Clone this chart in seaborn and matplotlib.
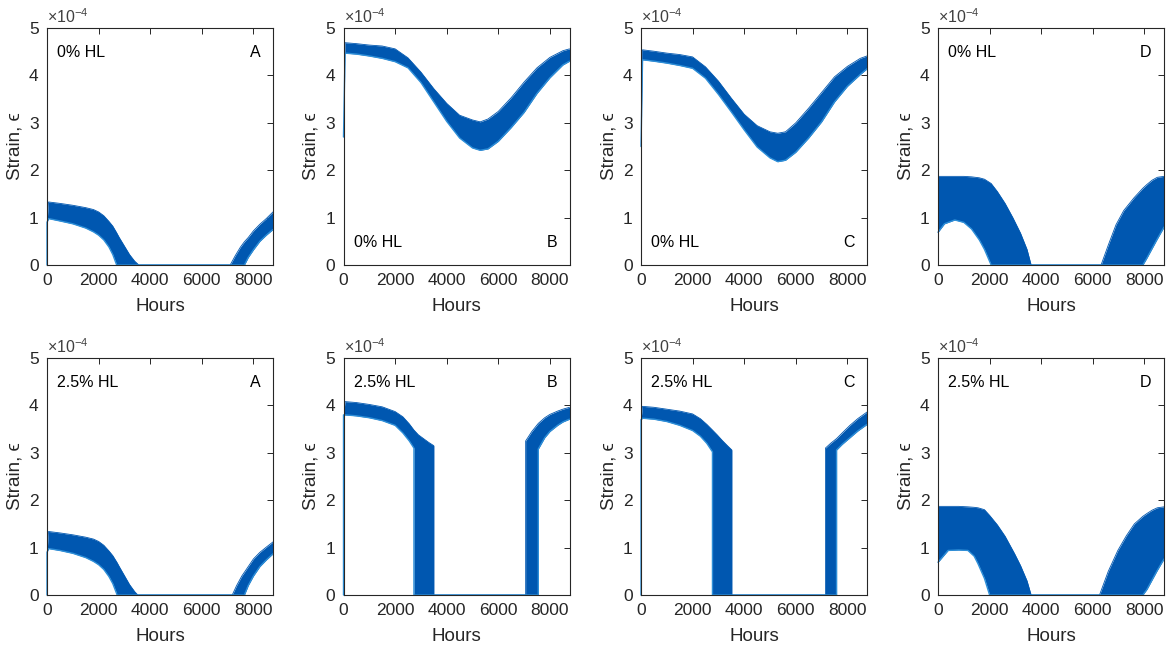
import numpy as np
import pandas as pd
import matplotlib
matplotlib.use("Agg")
import matplotlib.pyplot as plt
import seaborn as sns

# ---------------- data (strain in units of 1e-4, hours) ----------------
YEAR_END = 8760
x_ticks = [0, 2000, 4000, 6000, 8000]
y_ticks = [0, 1, 2, 3, 4, 5]

# 0% HL, A
hours_A0 = [0, 0, 60, 500, 1000, 1500, 1800, 2000, 2200, 2400, 2550, 2700, 2800, 3000, 3200, 3400, 3560,
            7100, 7300, 7500, 7650, 7800, 8000, 8250, 8500, 8760]
upper_A0 = [0, 0.9, 1.33, 1.30, 1.26, 1.21, 1.17, 1.12, 1.04, 0.92, 0.82, 0.68, 0.58, 0.40, 0.22, 0.08, 0,
            0, 0.20, 0.38, 0.49, 0.58, 0.72, 0.86, 0.98, 1.12]
lower_A0 = [0, 0.9, 0.98, 0.93, 0.87, 0.78, 0.70, 0.63, 0.53, 0.38, 0.22, 0, 0, 0, 0, 0, 0,
            0, 0, 0, 0, 0.16, 0.32, 0.50, 0.63, 0.75]

# 2.5% HL, A
hours_A1 = [0, 0, 60, 500, 1000, 1500, 1800, 2000, 2200, 2400, 2550, 2720, 2800, 3000, 3200, 3400, 3520,
            7180, 7350, 7550, 7650, 7800, 8000, 8250, 8500, 8760]
upper_A1 = [0, 0.9, 1.34, 1.31, 1.27, 1.22, 1.18, 1.13, 1.05, 0.93, 0.83, 0.68, 0.60, 0.41, 0.22, 0.07, 0,
            0, 0.20, 0.40, 0.48, 0.60, 0.76, 0.90, 1.01, 1.12]
lower_A1 = [0, 0.9, 0.98, 0.94, 0.88, 0.79, 0.71, 0.64, 0.54, 0.39, 0.24, 0, 0, 0, 0, 0, 0,
            0, 0, 0, 0, 0.20, 0.40, 0.60, 0.74, 0.87]

# 0% HL, B
hours_B0 = [0, 60, 500, 1000, 1500, 2000, 2500, 3000, 3500, 4000, 4500, 5000, 5300, 5600, 6000,
            6500, 7000, 7500, 8000, 8500, 8760]
upper_B0 = [2.7, 4.69, 4.67, 4.64, 4.62, 4.56, 4.37, 4.07, 3.72, 3.41, 3.16, 3.06, 3.02, 3.08, 3.24,
            3.53, 3.86, 4.16, 4.38, 4.52, 4.56]
lower_B0 = [2.7, 4.47, 4.45, 4.41, 4.36, 4.29, 4.16, 3.85, 3.44, 3.03, 2.68, 2.47, 2.42, 2.45, 2.61,
            2.90, 3.22, 3.62, 3.95, 4.22, 4.30]

# 2.5% HL, B
hours_B1 = [0, 0, 60, 500, 1000, 1500, 2000, 2300, 2550, 2730, 2730, 2900, 3100, 3300, 3500, 3500,
            7060, 7060, 7300, 7550, 7550, 7800, 8000, 8300, 8500, 8760]
upper_B1 = [0, 3.8, 4.08, 4.06, 4.02, 3.97, 3.87, 3.76, 3.61, 3.48, 3.48, 3.38, 3.30, 3.22, 3.15, 0,
            0, 3.25, 3.45, 3.62, 3.62, 3.74, 3.81, 3.88, 3.92, 3.96]
lower_B1 = [0, 3.8, 3.80, 3.78, 3.74, 3.68, 3.58, 3.42, 3.25, 3.10, 0, 0, 0, 0, 0, 0,
            0, 0, 0, 0, 3.08, 3.32, 3.45, 3.58, 3.65, 3.71]

# 0% HL, C
hours_C0 = [0, 60, 500, 1000, 1500, 2000, 2500, 3000, 3500, 4000, 4500, 5000, 5300, 5600, 6000,
            6500, 7000, 7500, 8000, 8500, 8760]
upper_C0 = [2.5, 4.54, 4.51, 4.47, 4.44, 4.39, 4.18, 3.88, 3.52, 3.18, 2.94, 2.81, 2.78, 2.81, 3.00,
            3.31, 3.64, 3.97, 4.19, 4.36, 4.41]
lower_C0 = [2.5, 4.33, 4.30, 4.26, 4.21, 4.15, 3.94, 3.60, 3.23, 2.85, 2.49, 2.26, 2.18, 2.21, 2.38,
            2.68, 3.02, 3.44, 3.77, 4.02, 4.14]

# 2.5% HL, C
hours_C1 = [0, 0, 60, 500, 1000, 1500, 2000, 2300, 2550, 2770, 2770, 2950, 3150, 3350, 3520, 3520,
            7150, 7150, 7350, 7580, 7580, 7800, 8100, 8400, 8760]
upper_C1 = [0, 3.7, 3.98, 3.96, 3.92, 3.88, 3.82, 3.72, 3.60, 3.48, 3.48, 3.38, 3.26, 3.15, 3.06, 0,
            0, 3.10, 3.20, 3.30, 3.30, 3.42, 3.58, 3.72, 3.86]
lower_C1 = [0, 3.7, 3.73, 3.71, 3.66, 3.58, 3.47, 3.35, 3.20, 3.02, 0, 0, 0, 0, 0, 0,
            0, 0, 0, 0, 3.06, 3.18, 3.32, 3.46, 3.60]

# 0% HL, D
hours_D0 = [0, 250, 650, 1000, 1300, 1600, 1800, 2060, 2300, 2600, 2900, 3200, 3450, 3610,
            6320, 6600, 6900, 7200, 7600, 7940, 8100, 8300, 8500, 8760]
upper_D0 = [1.87, 1.87, 1.87, 1.87, 1.86, 1.84, 1.81, 1.72, 1.55, 1.30, 1.00, 0.67, 0.33, 0,
            0, 0.42, 0.85, 1.15, 1.42, 1.62, 1.70, 1.79, 1.85, 1.87]
lower_D0 = [0.69, 0.87, 0.95, 0.90, 0.76, 0.53, 0.33, 0, 0, 0, 0, 0, 0, 0,
            0, 0, 0, 0, 0, 0, 0.15, 0.35, 0.55, 0.80]

# 2.5% HL, D
hours_D1 = [0, 390, 800, 1160, 1400, 1550, 1800, 2000, 2300, 2600, 2970, 3200, 3450, 3610,
            6260, 6600, 6970, 7300, 7610, 7940, 8100, 8300, 8500, 8760]
upper_D1 = [1.87, 1.87, 1.87, 1.86, 1.85, 1.84, 1.80, 1.68, 1.48, 1.24, 0.87, 0.62, 0.30, 0,
            0, 0.50, 0.94, 1.25, 1.50, 1.66, 1.72, 1.79, 1.84, 1.86]
lower_D1 = [0.69, 0.94, 0.95, 0.94, 0.82, 0.66, 0.35, 0, 0, 0, 0, 0, 0, 0,
            0, 0, 0, 0, 0, 0, 0.12, 0.32, 0.52, 0.76]

panels = [
    # (row, col, hours, upper, lower, HL text, letter, text at top?)
    (0, 0, hours_A0, upper_A0, lower_A0, "0% HL", "A", True),
    (0, 1, hours_B0, upper_B0, lower_B0, "0% HL", "B", False),
    (0, 2, hours_C0, upper_C0, lower_C0, "0% HL", "C", False),
    (0, 3, hours_D0, upper_D0, lower_D0, "0% HL", "D", True),
    (1, 0, hours_A1, upper_A1, lower_A1, "2.5% HL", "A", True),
    (1, 1, hours_B1, upper_B1, lower_B1, "2.5% HL", "B", True),
    (1, 2, hours_C1, upper_C1, lower_C1, "2.5% HL", "C", True),
    (1, 3, hours_D1, upper_D1, lower_D1, "2.5% HL", "D", True),
]

# ---------------- style ----------------
sns.set_theme(style="white")
plt.rcParams["font.family"] = ["Liberation Sans", "DejaVu Sans"]
plt.rcParams["mathtext.fontset"] = "custom"
plt.rcParams["mathtext.rm"] = "Liberation Sans"
plt.rcParams["mathtext.it"] = "Liberation Sans:italic"

BAND = "#0057B0"
EDGE = "#2E8FD8"
AXC = "#262626"

W, H = 1175, 651
fig = plt.figure(figsize=(W / 100, H / 100), dpi=100)
fig.patch.set_facecolor("white")

col_left = [47, 343.5, 641, 938]
row_top = [28, 358]
aw, ah = 226, 237

for row, col, hrs, up, lo, hl, letter, top_text in panels:
    left = col_left[col]
    top = row_top[row]
    ax = fig.add_axes([left / W, (H - top - ah) / H, aw / W, ah / H])
    df = pd.DataFrame({"Hours": hrs, "upper": up, "lower": lo})
    ax.fill_between(df["Hours"], df["lower"], df["upper"], color=BAND, linewidth=0, zorder=2)
    sns.lineplot(data=df, x="Hours", y="upper", ax=ax, estimator=None, sort=False,
                 color=BAND, linewidth=0.6, zorder=3)
    sns.lineplot(data=df, x="Hours", y="lower", ax=ax, estimator=None, sort=False,
                 color=EDGE, linewidth=1.0, zorder=3, clip_on=False)

    ax.set_xlim(0, YEAR_END)
    ax.set_ylim(0, 5)
    ax.set_xticks(x_ticks)
    ax.set_yticks(y_ticks)
    ax.set_xticklabels([str(t) for t in x_ticks])
    ax.set_yticklabels([str(t) for t in y_ticks])
    ax.tick_params(direction="in", length=4, width=0.7, color=AXC, labelsize=12.5,
                   labelcolor=AXC, top=True, right=True, pad=6)
    for s in ax.spines.values():
        s.set_color(AXC)
        s.set_linewidth(0.8)
        s.set_zorder(4)
    ax.set_xlabel("Hours", fontsize=13.5, color=AXC)
    ax.set_ylabel("Strain, \u03f5", fontsize=13.5, color=AXC)
    ax.xaxis.set_label_coords(0.5, -0.14)
    ax.yaxis.set_label_coords(-0.105, 0.5)

    ty = 0.895 if top_text else 0.093
    ax.text(0.045, ty, hl, transform=ax.transAxes, fontsize=11.5, color="black",
            ha="left", va="center")
    ax.text(0.945, ty, letter, transform=ax.transAxes, fontsize=11.5, color="black",
            ha="right", va="center")
    ax.text(0.0, 1.008, "$\\times10^{-4}$", transform=ax.transAxes, fontsize=11.5,
            color="#404040", ha="left", va="bottom")

fig.savefig("out.png", dpi=100, facecolor="white")
